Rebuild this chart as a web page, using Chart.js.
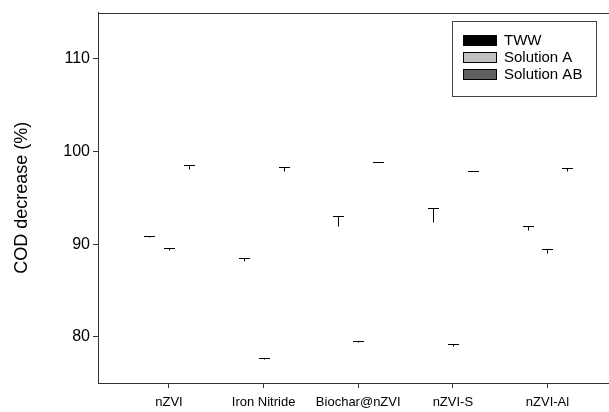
<!DOCTYPE html>
<html lang="en">
<head>
  <meta charset="UTF-8" />
  <title>COD decrease</title>
  <script src="https://cdn.jsdelivr.net/npm/chart.js"></script>
  <style>
    html, body { margin: 0; padding: 0; background: #fff; }
    #wrap { width: 609px; height: 412px; }
  </style>
</head>
<body>
  <div id="wrap"><canvas id="codChart" width="609" height="412"></canvas></div>

  <script>
    // data
    const categories = ['nZVI', 'Iron Nitride', 'Biochar@nZVI', 'nZVI-S', 'nZVI-Al'];
    const twwMean = [90.8, 88.15, 92.0, 92.35, 91.55];
    const twwErr = [0.12, 0.3, 1.0, 1.5, 0.4];
    const solAMean = [89.35, 77.6, 79.45, 78.95, 89.0];
    const solAErr = [0.2, 0.07, 0.05, 0.25, 0.45];
    const solABMean = [98.1, 97.9, 98.85, 97.85, 97.9];
    const solABErr = [0.45, 0.4, 0.07, 0.06, 0.3];
    const yTicks = [80, 90, 100, 110];

    const FONT = '"Liberation Sans", Arial, sans-serif';
    const AXIS = '#333';

    function series(means, offset) {
      return means.map((v, i) => ({ x: i + 1 + offset, y: v }));
    }

    // error bars (T shape) drawn from the scales
    const errorBars = {
      id: 'errorBars',
      afterDatasetsDraw(chart) {
        const { ctx, scales: { x, y } } = chart;
        ctx.save();
        ctx.strokeStyle = '#000';
        ctx.lineWidth = 1;
        chart.data.datasets.forEach(ds => {
          ds.data.forEach((p, j) => {
            const px = Math.round(x.getPixelForValue(p.x)) + 0.5;
            const yb = Math.round(y.getPixelForValue(p.y)) + 0.5;
            const yt = Math.round(y.getPixelForValue(p.y + ds.errors[j])) + 0.5;
            ctx.beginPath();
            ctx.moveTo(px, yb);
            ctx.lineTo(px, yt);
            ctx.moveTo(px - 5.5, yt);
            ctx.lineTo(px + 5.5, yt);
            ctx.stroke();
          });
        });
        ctx.restore();
      }
    };

    // top frame line + boxed legend
    const frameAndLegend = {
      id: 'frameAndLegend',
      afterDraw(chart) {
        const { ctx, chartArea } = chart;
        ctx.save();
        ctx.strokeStyle = AXIS;
        ctx.lineWidth = 1;
        ctx.beginPath();
        ctx.moveTo(chartArea.left, Math.round(chartArea.top) + 0.5);
        ctx.lineTo(chartArea.right, Math.round(chartArea.top) + 0.5);
        ctx.stroke();

        ctx.fillStyle = '#fff';
        ctx.fillRect(452.5, 21.5, 144, 75);
        ctx.strokeStyle = '#444';
        ctx.strokeRect(452.5, 21.5, 144, 75);

        ctx.font = '15px ' + FONT;
        ctx.textBaseline = 'middle';
        chart.data.datasets.forEach((ds, i) => {
          const cy = 40.5 + i * 17;
          ctx.fillStyle = ds.backgroundColor;
          ctx.fillRect(463.5, cy - 5, 33, 10);
          ctx.strokeStyle = '#000';
          ctx.strokeRect(463.5, cy - 5, 33, 10);
          ctx.fillStyle = '#000';
          ctx.fillText(ds.label, 504, cy + 0.5);
        });
        ctx.restore();
      }
    };

    new Chart(document.getElementById('codChart'), {
      type: 'scatter',
      data: {
        datasets: [
          { label: 'TWW', data: series(twwMean, -0.211), errors: twwErr, backgroundColor: '#000000' },
          { label: 'Solution A', data: series(solAMean, 0), errors: solAErr, backgroundColor: '#c0c0c0' },
          { label: 'Solution AB', data: series(solABMean, 0.211), errors: solABErr, backgroundColor: '#606060' }
        ]
      },
      options: {
        responsive: false,
        animation: false,
        events: [],
        layout: { padding: { top: 10, right: 0, left: 0, bottom: 0 } },
        plugins: { legend: { display: false }, tooltip: { enabled: false } },
        elements: { point: { radius: 0 } },
        scales: {
          x: {
            type: 'linear',
            min: 0.25,
            max: 5.65,
            afterBuildTicks: s => { s.ticks = categories.map((c, i) => ({ value: i + 1 })); },
            afterFit: s => { s.height = 29; },
            ticks: {
              autoSkip: false,
              maxRotation: 0,
              padding: 7,
              color: '#000',
              font: { family: FONT, size: 13 },
              callback: v => categories[v - 1] || ''
            },
            grid: { drawOnChartArea: false, drawTicks: true, tickLength: 5, color: AXIS },
            border: { color: AXIS, width: 1 }
          },
          y: {
            min: 75,
            max: 115,
            afterBuildTicks: s => { s.ticks = yTicks.map(v => ({ value: v })); },
            afterFit: s => { s.width = 98; },
            ticks: { padding: 3, color: '#000', font: { family: FONT, size: 16 } },
            grid: { drawOnChartArea: false, drawTicks: true, tickLength: 5, color: AXIS },
            border: { color: AXIS, width: 1 },
            title: {
              display: true,
              text: 'COD decrease (%)',
              color: '#000',
              font: { family: FONT, size: 18 },
              padding: { top: 11, bottom: 0 }
            }
          }
        }
      },
      plugins: [errorBars, frameAndLegend]
    });
  </script>
</body>
</html>
